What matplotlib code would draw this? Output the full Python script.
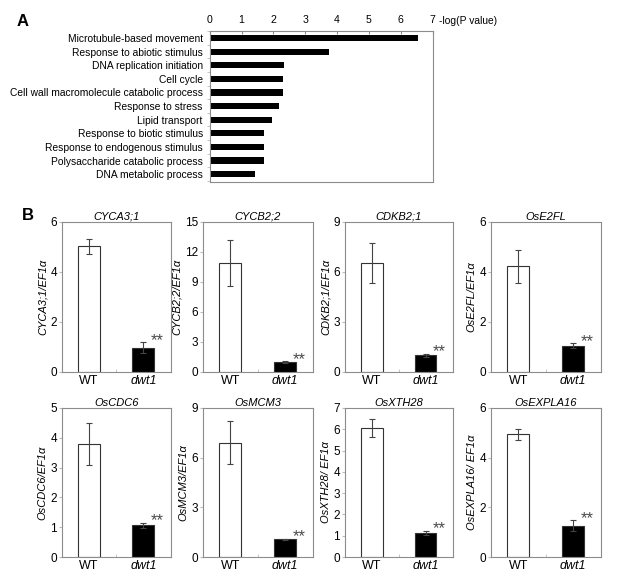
import matplotlib.pyplot as plt
import numpy as np

plt.rcParams['font.family'] = ['Liberation Sans', 'DejaVu Sans']

# panel A: GO enrichment
go_terms = ['Microtubule-based movement', 'Response to abiotic stimulus',
            'DNA replication initiation', 'Cell cycle',
            'Cell wall macromolecule catabolic process', 'Response to stress',
            'Lipid transport', 'Response to biotic stimulus',
            'Response to endogenous stimulus', 'Polysaccharide catabolic process',
            'DNA metabolic process']
go_scores = [6.56, 3.74, 2.35, 2.30, 2.30, 2.19, 1.97, 1.72, 1.72, 1.72, 1.41]

# panel B: qRT-PCR
genes = ['CYCA3;1', 'CYCB2;2', 'CDKB2;1', 'OsE2FL',
         'OsCDC6', 'OsMCM3', 'OsXTH28', 'OsEXPLA16']
ylabels = ['CYCA3;1/EF1α', 'CYCB2;2/EF1α', 'CDKB2;1/EF1α', 'OsE2FL/EF1α',
           'OsCDC6/EF1α', 'OsMCM3/EF1α', 'OsXTH28/ EF1α', 'OsEXPLA16/ EF1α']
groups = ['WT', 'dwt1']
wt_mean = [5.03, 10.95, 6.53, 4.23, 3.79, 6.91, 6.06, 4.95]
wt_err = [0.31, 2.3, 1.2, 0.67, 0.69, 1.3, 0.41, 0.22]
mut_mean = [0.98, 1.0, 1.0, 1.05, 1.06, 1.08, 1.13, 1.25]
mut_err = [0.21, 0.07, 0.08, 0.10, 0.08, 0.03, 0.11, 0.22]
ymax = [6, 15, 9, 6, 5, 9, 7, 6]
ystep = [2, 3, 3, 2, 1, 3, 1, 2]

W, H = 640, 583
fig = plt.figure(figsize=(W / 100, H / 100), dpi=100)
grey = '#8c8c8c'


def box(l, t, r, b):
    return [l / W, 1 - b / H, (r - l) / W, (b - t) / H]


# ---- A ----
ax = fig.add_axes(box(209.7, 31, 432.5, 182))
y = np.arange(len(go_terms))
ax.barh(y, go_scores, height=0.45, color='black')
ax.set_xlim(0, 7)
ax.set_ylim(len(go_terms) - 0.42, -0.52)
ax.xaxis.tick_top()
ax.set_xticks(range(8))
ax.set_yticks(y)
ax.set_yticklabels(go_terms, fontsize=7.4)
ax.set_yticks(np.arange(-0.5, len(go_terms), 1), minor=True)
ax.tick_params(axis='x', direction='in', length=2.5, color=grey, labelsize=7.6, pad=4)
ax.tick_params(axis='y', which='major', length=0, pad=5)
ax.tick_params(axis='y', which='minor', direction='out', length=2, color='#bbbbbb')
for s in ax.spines.values():
    s.set_color(grey)
    s.set_linewidth(0.8)
fig.text(439 / W, 1 - 21 / H, '-log(P value)', fontsize=7.4, va='center', ha='left')
fig.text(17 / W, 1 - 22 / H, 'A', fontsize=12, fontweight='bold', va='center')

# ---- B ----
lefts = [62, 203, 345, 491]
rights = [171, 313, 453, 601]
tops = [222, 408]
bottoms = [372, 557]

for i, g in enumerate(genes):
    r, c = divmod(i, 4)
    ax = fig.add_axes(box(lefts[c], tops[r], rights[c], bottoms[r]))
    ax.bar([0, 1], [wt_mean[i], mut_mean[i]], width=0.4,
           color=['white', 'black'], edgecolor='#333333', linewidth=0.8)
    ax.errorbar([0, 1], [wt_mean[i], mut_mean[i]], yerr=[wt_err[i], mut_err[i]],
                fmt='none', ecolor='#444444', elinewidth=0.8, capsize=2.5, capthick=0.8)
    ax.set_xlim(-0.5, 1.51)
    ax.set_ylim(0, ymax[i])
    ax.set_yticks(np.arange(0, ymax[i] + 0.01, ystep[i]))
    ax.set_xticks([0, 1])
    ax.set_xticklabels(groups, fontsize=9)
    ax.get_xticklabels()[1].set_style('italic')
    ax.set_xticks([0.5], minor=True)
    ax.tick_params(axis='x', which='major', length=0, pad=2)
    ax.tick_params(axis='x', which='minor', direction='in', length=2, color='#bbbbbb')
    ax.tick_params(axis='y', direction='out', length=2.5, color='#bbbbbb',
                   labelsize=8.5, pad=1)
    for s in ax.spines.values():
        s.set_color(grey)
        s.set_linewidth(0.8)
    ax.set_title(g, fontsize=8, style='italic', pad=1.5)
    ax.set_ylabel(ylabels[i], fontsize=8, style='italic', labelpad=2)
    ax.annotate('**', (1.2, mut_mean[i] + mut_err[i]), xytext=(-2.5, 1.5),
                textcoords='offset points', ha='left', va='center',
                fontsize=12, color='#4a4a4a')

fig.text(22 / W, 1 - 215 / H, 'B', fontsize=12, fontweight='bold', va='center')

fig.savefig('out.png', dpi=100, facecolor='white')
